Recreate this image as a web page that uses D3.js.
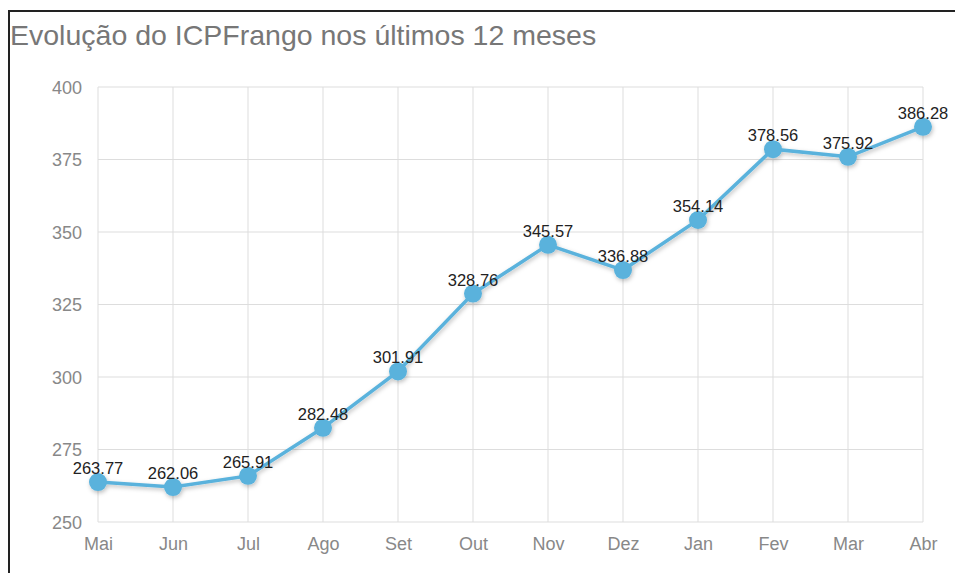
<!DOCTYPE html>
<html><head><meta charset="utf-8">
<script src="https://cdn.jsdelivr.net/npm/d3@7/dist/d3.min.js"></script>
<style>body{margin:0;background:#fff}svg{display:block}</style>
</head><body>
<svg id="c" width="955" height="573"></svg>
<script>
const months = ["Mai","Jun","Jul","Ago","Set","Out","Nov","Dez","Jan","Fev","Mar","Abr"];
const values = [263.77,262.06,265.91,282.48,301.91,328.76,345.57,336.88,354.14,378.56,375.92,386.28];
const yTicks = [250,275,300,325,350,375,400];
const title = "Evolução do ICPFrango nos últimos 12 meses";

const svg = d3.select("#c");
const font = "'Liberation Sans', Arial, sans-serif";
// frame
svg.append("rect").attr("x",9).attr("y",11).attr("width",960).attr("height",580)
  .attr("fill","none").attr("stroke","#222").attr("stroke-width",2);
svg.append("text").attr("x",10).attr("y",45).text(title)
  .attr("font-family",font).attr("font-size",28.5).attr("fill","#777");

const x = d3.scalePoint().domain(months).range([98,923]);
const y = d3.scaleLinear().domain([250,400]).range([522,87]);

const g = svg.append("g");
// grid
g.selectAll("line.h").data(yTicks).join("line").attr("class","h")
  .attr("x1",98).attr("x2",923).attr("y1",d=>y(d)).attr("y2",d=>y(d))
  .attr("stroke","#ddd").attr("stroke-width",1);
g.selectAll("line.v").data(months).join("line").attr("class","v")
  .attr("x1",d=>x(d)).attr("x2",d=>x(d)).attr("y1",y(400)).attr("y2",y(250))
  .attr("stroke","#ddd").attr("stroke-width",1);

// axes
const yAxis = d3.axisLeft(y).tickValues(yTicks).tickSize(0).tickPadding(16);
const ya = svg.append("g").attr("transform","translate(98,0)").call(yAxis);
ya.select(".domain").remove();
ya.selectAll("text").attr("font-family",font).attr("font-size",18).attr("fill","#888").attr("dy","0.36em");
const xAxis = d3.axisBottom(x).tickSize(0).tickPadding(15);
const xa = svg.append("g").attr("transform",`translate(0,${y(250)})`).call(xAxis);
xa.select(".domain").remove();
xa.selectAll("text").attr("font-family",font).attr("font-size",18).attr("fill","#888");

// shadow
const defs = svg.append("defs");
const f = defs.append("filter").attr("id","sh").attr("x","-10%").attr("y","-10%").attr("width","120%").attr("height","130%");
f.append("feDropShadow").attr("dx",1).attr("dy",2).attr("stdDeviation",2).attr("flood-color","#000").attr("flood-opacity",0.25);

const data = months.map((m,i)=>({m,v:values[i]}));
const line = d3.line().x(d=>x(d.m)).y(d=>y(d.v));
const sg = svg.append("g").attr("filter","url(#sh)");
sg.append("path").datum(data).attr("d",line).attr("fill","none")
  .attr("stroke","#5ab2dc").attr("stroke-width",3.5);
sg.selectAll("circle").data(data).join("circle")
  .attr("cx",d=>x(d.m)).attr("cy",d=>y(d.v)).attr("r",9).attr("fill","#5ab2dc");

svg.selectAll("text.lbl").data(data).join("text").attr("class","lbl")
  .attr("x",d=>x(d.m)).attr("y",d=>y(d.v)-8).attr("text-anchor","middle")
  .attr("font-family",font).attr("font-size",16.5).attr("fill","#222")
  .text(d=>d.v.toFixed(2));
</script>
</body></html>
